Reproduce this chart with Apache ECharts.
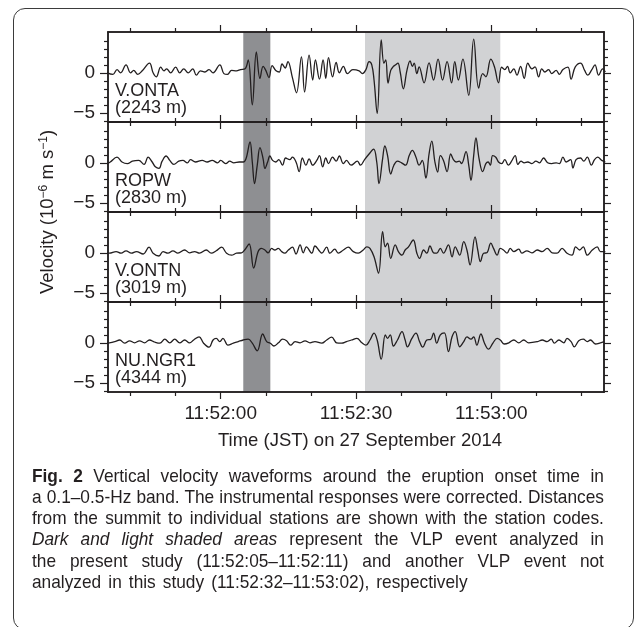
<!DOCTYPE html>
<html>
<head>
<meta charset="utf-8">
<title>Fig. 2 velocity waveforms</title>
<script src="https://cdn.jsdelivr.net/npm/echarts@6/dist/echarts.min.js"></script>
<style>
  html, body { margin: 0; padding: 0; background: #fff; }
  #wrap { position: relative; width: 634px; height: 627px; overflow: hidden; }
  #chart { position: absolute; left: 0; top: 0; width: 634px; height: 627px; }
  #frame {
    position: absolute; left: 12.5px; top: 7.5px; width: 621.5px; height: 622px;
    border: 1.5px solid #3b3b3b; border-radius: 12px; box-sizing: border-box;
    pointer-events: none;
  }
  /* condensed caption face: no narrow font installed, so squeeze Liberation Sans */
  #caption {
    position: absolute; left: 32px; top: 464.5px; width: 628.5px;
    transform: scaleX(0.91); transform-origin: 0 0;
    font-family: "Liberation Sans", Arial, sans-serif;
    font-size: 19px; line-height: 21.3px; color: #231f20;
  }
  #caption .ln { text-align: justify; text-align-last: justify; white-space: nowrap; }
  #caption .last { text-align: left; white-space: nowrap; word-spacing: 2.5px; }
  #caption b { font-weight: bold; }
</style>
</head>
<body>
<div id="wrap">
  <div id="chart"></div>
  <div id="frame"></div>
  <div id="caption">
    <div class="ln"><b>Fig. 2</b> Vertical velocity waveforms around the eruption onset time in</div>
    <div class="ln">a 0.1–0.5-Hz band. The instrumental responses were corrected. Distances</div>
    <div class="ln">from the summit to individual stations are shown with the station codes.</div>
    <div class="ln"><i>Dark and light shaded areas</i> represent the VLP event analyzed in</div>
    <div class="ln">the present study (11:52:05–11:52:11) and another VLP event not</div>
    <div class="last">analyzed in this study (11:52:32–11:53:02), respectively</div>
  </div>
</div>
<script>
// time in seconds relative to 11:52:00 JST, velocity in 1e-6 m/s
const stations = ['V.ONTA', 'ROPW', 'V.ONTN', 'NU.NGR1'];
const distances = ['(2243 m)', '(2830 m)', '(3019 m)', '(4344 m)'];

const majorX = [0, 30, 60];
const minorX = [-20, -10, 10, 20, 40, 50, 70, 80];
const xTickLabels = ['11:52:00', '11:52:30', '11:53:00'];
const majorY = [-5, 0];
const minorY = [-6, -4, -3, -2, -1, 1, 2, 3, 4];
const yTickLabels = ['\u22125', '0'];

const darkSpan = [5, 11];   // 11:52:05-11:52:11
const lightSpan = [32, 62]; // 11:52:32-11:53:02

const ONTA = [[-25.6,0.1],[-23.9,-0.2],[-23.0,0.4],[-22.2,0.0],[-21.0,1.0],[-20.0,0.0],[-19.3,0.3],[-18.4,-0.2],[-17.4,0.25],[-15.8,1.2],[-15.0,0.0],[-14.3,-0.5],[-13.3,0.7],[-12.6,0.25],[-12.0,0.5],[-11.1,0.0],[-10.0,0.7],[-9.1,0.0],[-8.2,0.5],[-7.2,0.0],[-6.2,0.5],[-5.4,-0.3],[-4.5,0.25],[-3.5,0.1],[-2.6,0.4],[-1.7,0.0],[-0.2,1.0],[0.7,-0.1],[1.5,-0.2],[2.4,0.3],[3.5,0.25],[4.4,0.4],[5.4,0.5],[6.1,1.6],[7.0,-4.0],[7.9,2.6],[8.7,-0.7],[9.4,0.8],[10.0,0.3],[10.7,-0.6],[11.4,0.9],[12.2,0.3],[13.0,0.1],[13.6,1.1],[14.3,0.6],[14.9,1.4],[15.9,-0.6],[16.8,-2.5],[17.9,2.0],[18.6,-2.4],[19.6,2.2],[20.4,-0.9],[21.0,1.6],[21.9,-0.8],[22.7,1.6],[23.3,-0.7],[23.9,1.9],[24.8,-0.5],[25.6,1.3],[26.3,0.0],[27.2,0.8],[28.1,-0.1],[29.3,0.4],[30.7,0.25],[31.4,-0.1],[32.2,0.4],[32.9,1.4],[33.5,1.0],[34.0,-0.9],[34.7,-5.1],[35.6,4.1],[36.2,1.2],[36.6,1.6],[37.1,-1.3],[37.7,0.3],[38.3,0.8],[38.8,1.0],[39.3,1.2],[39.8,0.1],[40.5,-2.0],[41.3,0.3],[42.0,1.5],[42.5,0.8],[42.9,1.2],[43.5,-0.1],[44.0,0.75],[45.1,-1.25],[46.2,1.25],[47.2,-0.9],[48.2,1.7],[49.2,-0.9],[50.2,1.4],[51.2,-1.25],[51.9,1.4],[52.7,-0.9],[53.7,1.7],[55.0,-2.8],[56.1,4.2],[57.2,-1.9],[58.1,-0.1],[58.8,-0.5],[59.9,1.7],[60.7,0.75],[61.6,-1.25],[62.3,0.7],[63.0,0.4],[63.6,0.8],[64.2,0.0],[65.0,0.5],[65.7,-0.3],[66.5,0.8],[67.3,-0.7],[68.1,1.2],[69.0,0.5],[69.7,0.75],[70.5,-0.5],[71.2,0.5],[71.9,0.1],[72.7,0.4],[73.4,-0.1],[74.4,0.3],[75.1,-0.2],[75.9,0.4],[77.0,0.7],[77.7,-0.8],[78.6,0.7],[79.8,1.2],[80.7,0.3],[81.4,-0.3],[82.3,0.4],[83.0,1.0],[83.8,-0.3],[84.7,0.5],[85.3,0.1]];

const ROPW = [[-25.6,-0.3],[-24.5,0.1],[-23.0,0.7],[-21.9,0.1],[-20.7,-0.1],[-19.6,0.2],[-18.2,0.3],[-17.0,-0.2],[-16.1,0.7],[-15.2,0.1],[-14.5,-0.5],[-13.7,-0.7],[-13.0,0.2],[-12.1,0.85],[-11.3,0.3],[-10.4,-0.2],[-9.3,0.2],[-8.4,0.3],[-7.4,0.0],[-6.7,0.4],[-5.6,0.1],[-4.1,0.3],[-3.0,0.1],[-1.9,0.3],[-0.7,0.0],[0.0,0.3],[1.1,-0.1],[2.0,0.2],[2.9,0.0],[4.1,0.1],[5.0,0.1],[5.6,0.5],[6.5,2.6],[7.0,0.1],[7.5,-2.6],[8.1,-0.3],[8.7,1.9],[9.4,0.5],[9.8,-0.7],[10.4,0.1],[10.9,0.85],[11.5,0.3],[12.2,0.1],[12.9,0.4],[13.7,-0.3],[14.4,0.6],[15.3,0.4],[15.9,0.7],[16.7,0.1],[17.4,-1.1],[18.1,0.6],[18.9,-0.3],[19.6,0.5],[20.4,-0.3],[21.3,0.3],[21.9,0.9],[22.6,-0.5],[23.3,0.6],[23.9,-0.1],[24.8,0.7],[25.6,0.2],[26.3,0.85],[27.2,-0.1],[27.9,0.3],[28.9,-0.3],[30.3,0.2],[31.0,-0.3],[31.9,0.4],[32.9,1.1],[33.9,1.7],[34.6,0.1],[35.1,-2.6],[35.9,0.5],[36.4,2.1],[37.0,0.9],[37.7,-1.4],[38.4,-0.3],[39.2,0.2],[40.1,0.0],[41.0,-0.3],[41.8,0.9],[42.5,1.55],[43.3,0.7],[44.0,-0.3],[44.7,0.3],[45.5,-1.9],[46.2,1.1],[46.8,2.7],[47.5,0.1],[48.1,-1.15],[48.7,0.9],[49.4,0.3],[50.2,-1.1],[51.0,1.1],[51.6,0.4],[52.2,0.1],[52.9,0.2],[53.4,-0.1],[54.4,1.4],[55.0,-0.3],[55.5,-2.2],[56.1,0.9],[56.6,3.1],[57.3,0.5],[58.1,-1.1],[58.8,-0.1],[59.3,0.1],[59.8,-0.3],[60.3,0.9],[61.0,0.7],[61.6,0.1],[62.3,-0.1],[63.0,0.4],[63.8,-0.3],[64.5,0.2],[65.3,0.9],[65.9,-0.2],[66.6,0.2],[67.3,0.0],[68.1,0.1],[69.0,-0.1],[69.9,0.2],[70.7,0.0],[71.6,0.6],[72.5,0.0],[73.4,-0.1],[74.4,0.0],[75.1,-0.1],[75.9,0.7],[76.6,0.1],[77.6,0.4],[78.1,-0.65],[78.8,0.4],[79.8,0.6],[80.5,0.2],[81.3,0.7],[82.2,-0.3],[82.9,0.4],[83.6,0.7],[84.5,0.3],[85.3,0.1]];

const ONTN = [[-25.6,0.0],[-24.7,-0.05],[-23.2,0.15],[-22.1,-0.05],[-21.0,0.25],[-19.8,-0.05],[-18.7,0.15],[-17.2,-0.15],[-15.9,0.7],[-15.0,-0.05],[-13.7,-0.4],[-12.8,0.15],[-11.7,-0.05],[-10.6,0.25],[-9.5,-0.05],[-8.0,0.35],[-6.9,0.0],[-5.8,0.15],[-4.7,-0.05],[-3.2,0.35],[-2.1,-0.05],[-1.0,0.25],[0.2,0.7],[1.3,-0.05],[2.4,-0.3],[3.5,-0.05],[4.6,0.0],[5.3,0.35],[6.3,1.1],[7.3,-1.9],[8.3,0.15],[9.0,0.55],[9.8,0.35],[10.5,0.0],[11.3,0.55],[12.0,0.35],[12.75,0.55],[13.5,0.15],[14.2,-0.05],[15.0,0.35],[15.9,0.7],[16.7,-0.15],[17.6,1.0],[18.3,0.0],[19.0,0.75],[20.2,-0.05],[20.9,0.85],[22.0,0.15],[22.4,-0.05],[23.5,0.7],[24.2,-0.05],[25.3,0.45],[26.1,-0.05],[27.2,0.35],[28.3,0.7],[29.4,0.15],[30.5,-0.05],[31.6,0.35],[32.4,0.75],[33.1,0.55],[34.0,-0.5],[35.0,-2.55],[35.9,2.65],[36.5,0.75],[37.0,1.2],[37.7,-0.7],[38.7,1.0],[39.4,0.15],[40.2,-0.3],[40.9,0.35],[41.6,0.7],[42.7,1.6],[43.5,-0.05],[44.1,-0.7],[45.0,0.35],[45.7,-0.05],[46.4,0.85],[47.2,0.0],[47.9,-0.05],[48.7,0.55],[49.4,-0.05],[50.5,1.0],[51.3,-0.5],[52.0,0.75],[53.0,-0.3],[53.9,1.4],[54.6,0.35],[55.3,-1.5],[56.4,2.0],[57.0,0.35],[57.6,-1.1],[58.3,-0.05],[59.0,0.0],[59.9,1.2],[60.5,0.55],[61.3,-0.3],[62.0,0.55],[62.7,0.35],[63.5,-0.05],[64.2,0.55],[65.0,0.15],[66.1,0.45],[66.8,-0.05],[67.9,0.25],[69.0,0.0],[70.2,0.35],[71.3,0.15],[72.4,0.55],[73.5,0.0],[74.6,-0.05],[75.7,0.55],[76.8,-0.05],[77.9,-0.3],[78.7,0.75],[79.6,0.35],[80.4,0.75],[81.3,-0.3],[82.4,0.35],[83.5,0.75],[84.2,0.15],[85.3,0.15]];

const NGR1 = [[-25.6,-0.05],[-24.7,0.0],[-23.5,0.15],[-22.4,0.35],[-21.3,-0.05],[-20.2,0.25],[-19.1,0.0],[-18.0,0.25],[-16.9,0.0],[-15.8,0.35],[-14.7,0.1],[-13.5,-0.05],[-12.4,0.45],[-11.3,0.0],[-10.2,0.45],[-9.1,0.0],[-8.0,0.35],[-6.9,0.0],[-6.0,0.35],[-4.8,0.75],[-3.8,-0.05],[-2.6,-0.55],[-1.7,0.35],[-1.0,0.55],[-0.2,0.15],[0.5,0.55],[1.6,-0.3],[2.8,-0.05],[3.9,0.15],[5.0,0.35],[6.1,0.45],[7.0,-0.05],[8.1,-1.0],[9.3,1.1],[10.2,0.15],[11.0,-0.05],[11.8,-0.4],[12.8,0.0],[13.7,0.45],[14.6,0.25],[15.5,-0.3],[16.5,0.15],[17.6,0.0],[18.7,0.25],[19.8,0.0],[20.9,0.15],[22.4,-0.05],[23.5,0.35],[24.6,0.7],[25.7,0.0],[26.8,-0.05],[27.9,0.15],[29.0,0.35],[30.2,0.55],[31.3,0.0],[32.2,-0.3],[33.1,0.35],[34.0,1.2],[34.7,0.35],[35.6,-2.05],[36.5,1.0],[37.0,0.55],[37.6,1.0],[38.3,-0.4],[39.2,0.35],[40.2,1.4],[40.9,0.35],[41.4,-0.5],[42.4,0.55],[43.3,1.2],[44.1,0.15],[44.8,-0.55],[45.7,0.35],[46.6,0.45],[47.2,1.2],[47.9,-0.05],[48.7,1.0],[49.6,1.25],[50.5,-1.1],[51.3,0.75],[52.0,1.4],[53.0,-0.5],[53.9,0.15],[54.6,0.75],[55.5,0.45],[56.1,0.75],[56.8,-0.3],[57.7,1.1],[58.5,-0.05],[59.4,-0.8],[60.4,0.0],[61.3,0.55],[62.0,0.35],[62.9,-0.15],[63.9,0.0],[65.0,0.35],[66.1,0.0],[67.2,0.35],[68.3,0.0],[70.3,0.15],[71.3,0.35],[72.4,0.15],[73.3,0.45],[74.0,-0.05],[75.0,0.35],[76.1,0.0],[76.8,0.55],[77.7,0.15],[78.4,-0.5],[79.4,0.25],[80.4,0.45],[81.3,0.15],[82.0,0.35],[83.1,-0.15],[84.2,0.0],[85.0,0.15]];

const waves = [ONTA, ROPW, ONTN, NGR1];

const ink = '#231f20';
const font = '"Liberation Sans", Arial, Helvetica, sans-serif';
const plotLeft = 108, plotWidth = 496, plotTop = 32, panelH = 90;
const xMin = -25, xMax = 85, yMin = -6.15, yMax = 5.1;

function xAx(i, pos, ticks, len, labels, lineW) {
  return {
    type: 'value', gridIndex: i, position: pos, min: xMin, max: xMax, z: 5,
    axisLine: { show: true, onZero: false, lineStyle: { color: ink, width: lineW } },
    axisTick: { show: true, inside: false, customValues: ticks, length: len, lineStyle: { color: ink, width: 1.2 } },
    axisLabel: labels ? {
      show: true, customValues: majorX, margin: 12, color: ink, fontSize: 19, fontFamily: font,
      formatter: v => xTickLabels[majorX.indexOf(v)]
    } : { show: false },
    splitLine: { show: false }
  };
}

function yAx(i, pos, ticks, len, labels) {
  return {
    type: 'value', gridIndex: i, position: pos, min: yMin, max: yMax, z: 5,
    axisLine: { show: true, onZero: false, lineStyle: { color: ink, width: 1.5 } },
    axisTick: { show: true, inside: false, customValues: ticks, length: len, lineStyle: { color: ink, width: 1.2 } },
    axisLabel: labels ? {
      show: true, customValues: majorY, margin: 13, color: ink, fontSize: 19, fontFamily: font,
      formatter: v => yTickLabels[majorY.indexOf(v)]
    } : { show: false },
    splitLine: { show: false }
  };
}

const grid = [], xAxis = [], yAxis = [], series = [], graphic = [];
for (let i = 0; i < 4; i++) {
  const top = plotTop + panelH * i;
  grid.push({ left: plotLeft, top: top, width: plotWidth, height: panelH });
  const bw = i === 3 ? 1.6 : 2;
  const tw = i === 0 ? 1.5 : 2;
  xAxis.push(xAx(i, 'bottom', minorX, 4, false, bw));
  xAxis.push(xAx(i, 'bottom', majorX, 7, i === 3, bw));
  xAxis.push(xAx(i, 'top', minorX, 4, false, tw));
  xAxis.push(xAx(i, 'top', majorX, 7, false, tw));
  yAxis.push(yAx(i, 'left', minorY, 4, false));
  yAxis.push(yAx(i, 'left', majorY, 8, true));
  yAxis.push(yAx(i, 'right', minorY, 4, false));
  yAxis.push(yAx(i, 'right', majorY, 7, false));

  series.push({
    type: 'line', name: stations[i], xAxisIndex: 4 * i, yAxisIndex: 4 * i,
    data: waves[i], symbol: 'none', smooth: 0.4, clip: true, silent: true,
    lineStyle: { color: ink, width: 1.3 },
    markArea: {
      silent: true,
      data: [
        [{ xAxis: darkSpan[0], itemStyle: { color: '#8e8f92' } }, { xAxis: darkSpan[1] }],
        [{ xAxis: lightSpan[0], itemStyle: { color: '#d1d2d4' } }, { xAxis: lightSpan[1] }]
      ]
    }
  });

  graphic.push({
    type: 'text', x: plotLeft + 7, y: top + 51, z: 10,
    style: {
      text: stations[i] + '\n' + distances[i], fill: ink,
      font: '18px ' + font, lineHeight: 17, verticalAlign: 'top', align: 'left'
    }
  });
}

graphic.push({
  type: 'text', x: 48, y: plotTop + panelH * 2, rotation: Math.PI / 2, z: 10,
  style: {
    text: '{a|Velocity (10}{b|\u22126}{a| m s}{b|\u22121}{a|)}',
    align: 'center', verticalAlign: 'middle',
    rich: {
      a: { fontSize: 18.5, fontFamily: font, fill: ink, lineHeight: 21 },
      b: { fontSize: 12, fontFamily: font, fill: ink, verticalAlign: 'top', lineHeight: 21 }
    }
  }
});
graphic.push({
  type: 'text', x: plotLeft + plotWidth / 2 + 4, y: 441, z: 10,
  style: {
    text: 'Time (JST) on 27 September 2014', fill: ink,
    font: '18.5px ' + font, align: 'center', verticalAlign: 'middle'
  }
});

const chart = echarts.init(document.getElementById('chart'), null, { renderer: 'canvas' });
chart.setOption({
  animation: false,
  backgroundColor: '#fff',
  textStyle: { fontFamily: font },
  grid: grid,
  xAxis: xAxis,
  yAxis: yAxis,
  series: series,
  graphic: graphic
});
</script>
</body>
</html>
